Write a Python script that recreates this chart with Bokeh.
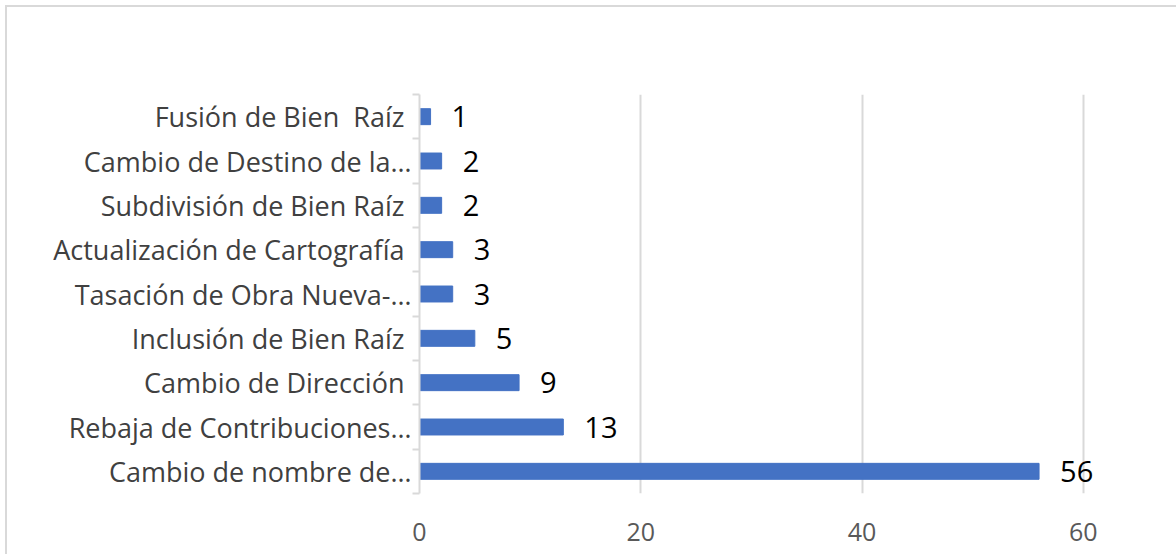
from bokeh.plotting import figure
from bokeh.models import ColumnDataSource, Range1d, FixedTicker, LabelSet
from bokeh.core.properties import value
from bokeh.embed import file_html
from bokeh.resources import INLINE

# data (bottom to top)
categories = [
    "Cambio de nombre de…",
    "Rebaja de Contribuciones…",
    "Cambio de Dirección\u00a0",
    "Inclusión de Bien Raíz\u00a0",
    "Tasación de Obra Nueva-…",
    "Actualización de Cartografía\u00a0",
    "Subdivisión de Bien Raíz\u00a0",
    "Cambio de Destino de la…",
    "Fusión de Bien\u00a0 Raíz\u00a0",
]
values = [56, 13, 9, 5, 3, 3, 2, 2, 1]
x_ticks = [0, 20, 40, 60]

n = len(categories)
ypos = [i + 1 for i in range(n)]
source = ColumnDataSource(dict(y=ypos, v=values, lab=[str(v) for v in values], cat=categories))

FONT = "Open Sans"
X_END = 63  # a little room past the last gridline so the "56" label is not clipped
PX_PER_UNIT = 664 / 60
FRAME_W = round(PX_PER_UNIT * X_END)

p = figure(width=1176, height=554, output_backend="svg", toolbar_location=None,
           x_range=Range1d(0, X_END), y_range=Range1d(0.5, n + 0.5),
           frame_width=FRAME_W, frame_height=399,
           min_border_left=419, min_border_top=94,
           min_border_right=1176 - 419 - FRAME_W, min_border_bottom=61)
p.styles = {"box-shadow": "inset 5px 5px 0 0 white, inset 7px 7px 0 0 #d9d9d9"}
p.outline_line_color = None
p.background_fill_color = None
p.border_fill_color = None

p.hbar(y="y", right="v", left=0, height=0.36, source=source,
       fill_color="#4472C4", line_color="#4472C4")
labels = LabelSet(x="v", y="y", text="lab", source=source, x_offset=21,
                  text_baseline="middle", text_align="left",
                  text_font=value(FONT), text_font_size="29px", text_color="black")
p.add_layout(labels)

# x axis
p.xaxis.ticker = FixedTicker(ticks=x_ticks)
p.xaxis.axis_line_color = None
p.xaxis.major_tick_line_color = None
p.xaxis.minor_tick_line_color = None
p.xaxis.major_label_standoff = 23
p.xaxis.major_label_text_font = FONT
p.xaxis.major_label_text_font_size = "25px"
p.xaxis.major_label_text_color = "#595959"

p.xgrid.ticker = FixedTicker(ticks=x_ticks)
p.xgrid.grid_line_color = "#d9d9d9"
p.xgrid.grid_line_width = 2
p.ygrid.grid_line_color = None

# y axis
p.yaxis.ticker = FixedTicker(ticks=ypos, minor_ticks=[i + 0.5 for i in range(n + 1)])
p.yaxis.major_label_overrides = {y: c for y, c in zip(ypos, categories)}
p.yaxis.axis_line_color = "#d9d9d9"
p.yaxis.axis_line_width = 2
p.yaxis.major_tick_line_color = None
p.yaxis.major_tick_out = 0
p.yaxis.minor_tick_line_color = "#d9d9d9"
p.yaxis.minor_tick_line_width = 2
p.yaxis.minor_tick_out = 7
p.yaxis.minor_tick_in = 0
p.yaxis.major_label_standoff = 1
p.yaxis.major_label_text_font = FONT
p.yaxis.major_label_text_font_size = "27px"
p.yaxis.major_label_text_color = "#404040"

open("out.html", "w").write(file_html(p, INLINE))
